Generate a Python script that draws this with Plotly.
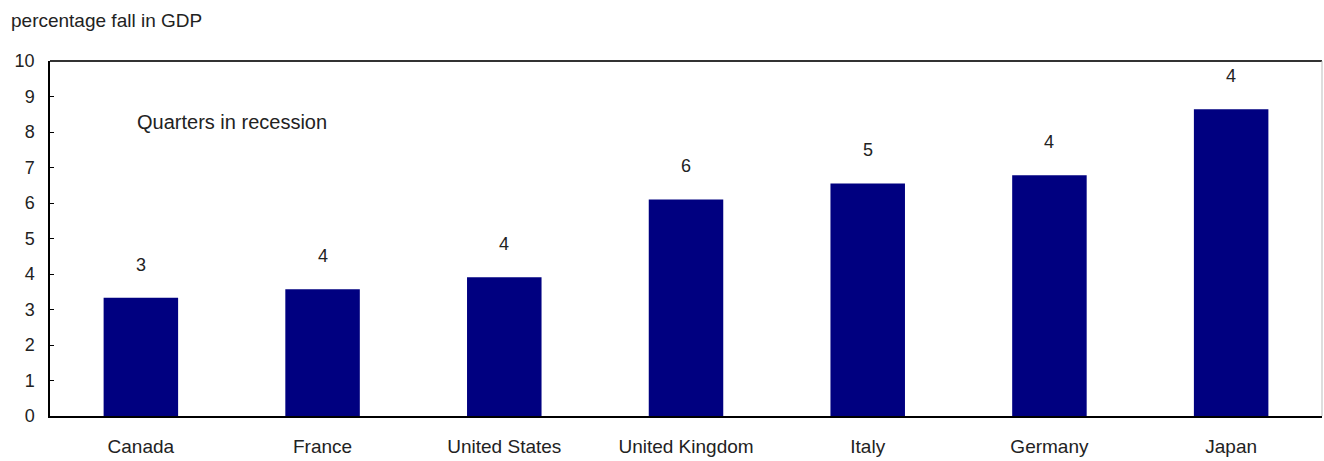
import plotly.graph_objects as go

countries = ["Canada", "France", "United States", "United Kingdom", "Italy", "Germany", "Japan"]
gdp_fall = [3.33, 3.57, 3.91, 6.10, 6.55, 6.78, 8.64]
quarters = [3, 4, 4, 6, 5, 4, 4]
y_ticks = list(range(0, 11))

FONT = "Liberation Sans, Arial, sans-serif"

fig = go.Figure()
fig.add_trace(go.Bar(
    x=countries, y=gdp_fall, width=0.41,
    marker=dict(color="#000080", line=dict(width=0)),
    hoverinfo="x+y",
))

for c, v, q in zip(countries, gdp_fall, quarters):
    fig.add_annotation(x=c, y=v, text=str(q), showarrow=False, yshift=33,
                       font=dict(family=FONT, size=18, color="#222"))

fig.add_annotation(xref="paper", yref="paper", x=0.0668, y=0.828, xanchor="left", yanchor="middle",
                   text="Quarters in recession", showarrow=False,
                   font=dict(family=FONT, size=20, color="#222"))

fig.add_annotation(xref="paper", yref="paper", x=-0.0322, y=1.0, yshift=41, xanchor="left", yanchor="middle",
                   text="percentage fall in GDP", showarrow=False,
                   font=dict(family=FONT, size=19, color="#222"))

# top and right borders
fig.add_shape(type="line", xref="paper", yref="paper", x0=0, x1=1, y0=1, y1=1,
              line=dict(color="#333", width=2))
fig.add_shape(type="line", xref="paper", yref="paper", x0=1, x1=1, y0=0, y1=1,
              line=dict(color="#bbb", width=1))

fig.update_layout(
    width=1324, height=461,
    margin=dict(l=50, r=2, t=61, b=45),
    paper_bgcolor="white", plot_bgcolor="white",
    showlegend=False,
    font=dict(family=FONT, size=15, color="#222"),
    xaxis=dict(type="category", range=[-0.5, 6.5], showline=True, linecolor="black", linewidth=1.5,
               ticks="", showgrid=False, tickfont=dict(size=19), ticklabelstandoff=12),
    yaxis=dict(range=[0, 10], tickvals=y_ticks, showline=True, linecolor="black", linewidth=1.5,
               ticks="inside", ticklen=4, tickcolor="black", showgrid=False, zeroline=False,
               tickfont=dict(size=18), ticklabelstandoff=10),
)

fig.write_html("out.html")
